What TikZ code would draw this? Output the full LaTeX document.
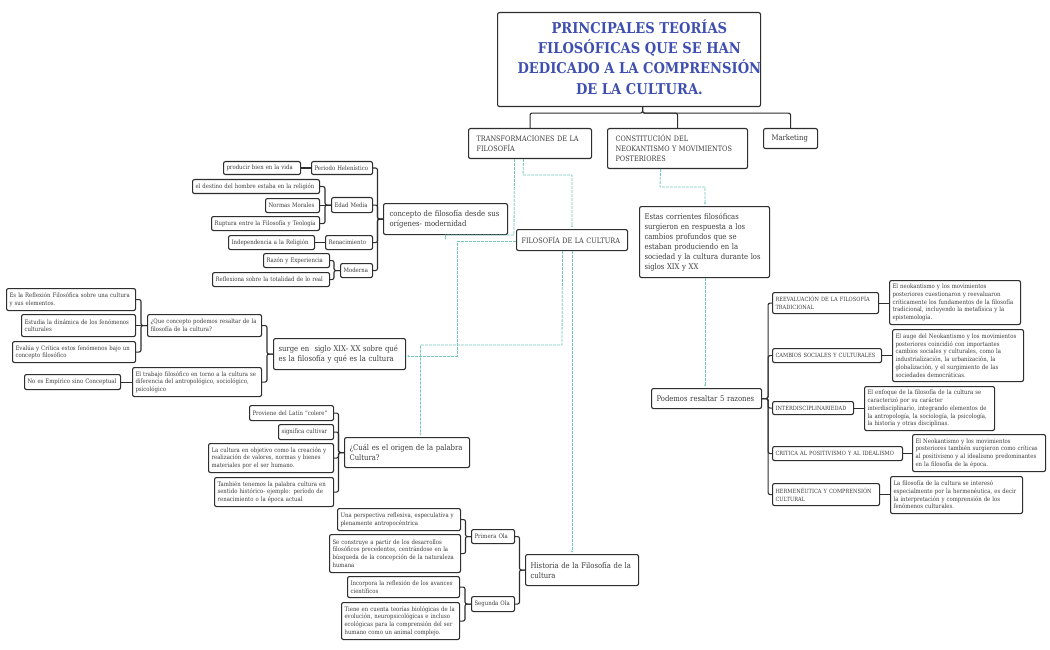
\documentclass[tikz,border=0pt]{standalone}
\usepackage{fontspec}
\setmainfont{DejaVu Serif}[FakeStretch=0.88]
\usetikzlibrary{arrows.meta}
\definecolor{ink}{HTML}{2E2E2E}
\definecolor{txt}{HTML}{3C3C3C}
\definecolor{teal1}{HTML}{74C7BC}
\definecolor{titleblue}{HTML}{3F4FB0}
\tikzset{
  box/.style={draw=ink,line width=1.1pt,rounded corners=2pt,fill=white,anchor=north west,align=left,text=txt,inner ysep=0pt,inner xsep=0pt},
  link/.style={draw=ink,line width=1.1pt,rounded corners=2pt},
  dlink/.style={draw=teal1,line width=0.8pt,dash pattern=on 3pt off 1pt},
  dtip/.style={dlink,-{Stealth[length=2pt,width=2pt,teal1]}}
}
\newcommand{\capsz}{\fontsize{5.75}{7.7}\selectfont}
\newcommand{\bxs}[6]{\node[box,minimum width={(#5-#3)*1pt},minimum height={(#6-#4)*1pt},text width={(#5-#3-6)*1pt},font=\fontsize{6.1}{7.7}\selectfont] (#2) at (#3,#4) {#1};}
\newcommand{\bxm}[7][5]{\node[box,minimum width={(#6-#4)*1pt},minimum height={(#7-#5)*1pt},text width={(#6-#4-2*#1)*1pt},font=\fontsize{7.8}{10}\selectfont] (#3) at (#4,#5) {#2};}
\newcommand{\bxc}[7][5]{\node[box,minimum width={(#6-#4)*1pt},minimum height={(#7-#5)*1pt},text width={(#6-#4-2*#1)*1pt},font=\fontsize{7.4}{10}\selectfont] (#3) at (#4,#5) {#2};}
\newcommand{\lk}[3]{\draw[link] (#1.east) -| ([xshift=-#3pt]#2.west) -- (#2.west);}
\newcommand{\lr}[3]{\draw[link] (#1.east) -- ([xshift=#3pt]#1.east) |- (#2.west);}
\newcommand{\st}[2]{\draw[link] (#1.east) -- (#1.east -| #2.west);}
\begin{document}
\begin{tikzpicture}[x=1pt,y=-1pt]
\useasboundingbox (0,0) rectangle (1050,650);
% title
\node[box,minimum width=263pt,minimum height=94pt,text=titleblue,font=\fontsize{14.9}{20.3}\selectfont\bfseries] (title) at (497,12) {\makebox[263pt][l]{\hspace*{20pt}\raisebox{0.5pt}{\begin{tabular}{@{}c@{}}PRINCIPALES TEORÍAS\\FILOSÓFICAS QUE SE HAN\\DEDICADO A LA COMPRENSIÓN\\DE LA CULTURA.\end{tabular}}}};
\bxc[8]{TRANSFORMACIONES DE LA\\FILOSOFÍA}{trans}{468}{128}{591}{158}
\bxc[8]{CONSTITUCIÓN DEL\\NEOKANTISMO Y MOVIMIENTOS\\POSTERIORES}{cons}{607}{128}{747}{168}
\bxm[8]{Marketing}{mkt}{763}{128}{817}{148}
\bxc[5]{FILOSOFÍA DE LA CULTURA}{filo}{516}{229}{627}{250}
\bxm[6]{concepto de filosofía desde sus\\orígenes- modernidad}{conc}{383}{203}{507}{234}
\bxm{Estas corrientes filosóficas\\surgieron en respuesta a los\\cambios profundos que se\\estaban produciendo en la\\sociedad y la cultura durante los\\siglos XIX y XX}{estas}{639}{206}{769}{277}
\bxm{Podemos resaltar 5 razones}{pod}{651}{388}{761}{408}
\bxm{surge en\ \ siglo XIX- XX sobre qué\\es la filosofía y qué es la cultura}{surge}{273}{338}{405}{369}
\bxm{¿Cuál es el origen de la palabra\\Cultura?}{cual}{344}{437}{469}{467}
\bxm{Historia de la Filosofía de la\\cultura}{hist}{525}{554}{638}{585}
% top-left tree
\bxs{producir bien en la vida}{prod}{223}{161}{300}{174}
\bxs{Periodo Helenístico}{peri}{311}{161}{372}{174}
\bxs{el destino del hombre estaba en la religión}{dest}{192}{179}{319}{193}
\bxs{Normas Morales}{norm}{265}{198}{319}{212}
\bxs{Ruptura entre la Filosofía y Teología}{rupt}{211}{216}{319}{230}
\bxs{Edad Media}{edad}{331}{197}{372}{212}
\bxs{Independencia a la Religión}{inde}{228}{235}{314}{249}
\bxs{Renacimiento}{rena}{325}{235}{372}{249}
\bxs{Razón y Experiencia}{razo}{263}{253}{329}{267}
\bxs{Reflexiona sobre la totalidad de lo real}{refl}{212}{272}{329}{286}
\bxs{Moderna}{mode}{340}{263}{372}{277}
% left tree
\bxs{Es la Reflexión Filosófica sobre una cultura\\y sus elementos.}{esla}{6}{288}{135}{310}
\bxs{Estudia la dinámica de los fenómenos\\culturales}{estu}{21}{314}{135}{336}
\bxs{Evalúa y Crítica estos fenómenos bajo un\\concepto filosófico}{eval}{12}{341}{135}{362}
\bxs{¿Que concepto podemos resaltar de la\\filosofía de la cultura?}{quec}{147}{314}{261}{336}
\bxs{No es Empírico sino Conceptual}{noes}{24}{374}{120}{389}
\bxs{El trabajo filosófico en torno a la cultura se\\diferencia del antropológico, sociológico,\\psicológico}{trab}{132}{367}{261}{396}
% cultura tree
\bxs{Proviene del Latín "colere"}{prov}{249}{405}{333}{420}
\bxs{significa cultivar}{sign}{278}{424}{333}{439}
\bxs{La cultura en objetivo como la creación y\\realización de valores, normas y bienes\\materiales por el ser humano.}{lacu}{208}{443}{333}{472}
\bxs{También tenemos la palabra cultura en\\sentido histórico- ejemplo: período de\\renacimiento o la época actual}{tamb}{214}{477}{333}{506}
% historia tree
\bxs{Una perspectiva reflexiva, especulativa y\\plenamente antropocéntrica}{unap}{337}{508}{460}{530}
\bxs{Se construye a partir de los desarrollos\\filosóficos precedentes, centrándose en la\\búsqueda de la concepción de la naturaleza\\humana}{secon}{329}{534}{460}{572}
\bxs{Primera Ola}{prim}{471}{529}{514}{543}
\bxs{Incorpora la reflexión de los avances\\científicos}{inco}{347}{576}{459}{597}
\bxs{Tiene en cuenta teorías biológicas de la\\evolución, neuropsicológicas e incluso\\ecológicas para la comprensión del ser\\humano como un animal complejo.}{tien}{341}{602}{459}{639}
\bxs{Segunda Ola}{segu}{471}{596}{514}{611}
% right tree
\bxs{\capsz REEVALUACIÓN DE LA FILOSOFÍA\\TRADICIONAL}{reev}{772}{292}{878}{313}
\bxs{El neokantismo y los movimientos\\posteriores cuestionaron y reevaluaron\\críticamente los fundamentos de la filosofía\\tradicional, incluyendo la metafísica y la\\epistemología.}{neok}{889}{280}{1020}{324}
\bxs{\capsz CAMBIOS SOCIALES Y CULTURALES}{camb}{772}{348}{881}{362}
\bxs{El auge del Neokantismo y los movimientos\\posteriores coincidió con importantes\\cambios sociales y culturales, como la\\industrialización, la urbanización, la\\globalización, y el surgimiento de las\\sociedades democráticas.}{auge}{892}{329}{1023}{381}
\bxs{\capsz INTERDISCIPLINARIEDAD}{inte}{772}{401}{853}{414}
\bxs{El enfoque de la filosofía de la cultura se\\caracterizó por su carácter\\interdisciplinario, integrando elementos de\\la antropología, la sociología, la psicología,\\la historia y otras disciplinas.}{enfo}{864}{386}{994}{430}
\bxs{\capsz CRITICA AL POSITIVISMO Y AL IDEALISMO}{crit}{772}{446}{902}{460}
\bxs{El Neokantismo y los movimientos\\posteriores también surgieron como críticas\\al positivismo y al idealismo predominantes\\en la filosofía de la época.}{neo2}{912}{434}{1045}{471}
\bxs{\capsz HERMENÉUTICA Y COMPRENSIÓN\\CULTURAL}{herm}{772}{483}{879}{505}
\bxs{La filosofía de la cultura se interesó\\especialmente por la hermenéutica, es decir\\la interpretación y comprensión de los\\fenómenos culturales.}{lafi}{890}{476}{1022}{513}
% title connectors
\draw[link] ([xshift=13.5pt]title.south) -- ++(0,6) -| (trans.north);
\draw[link] ([xshift=13.5pt]title.south) -- ++(0,6) -| (cons.north);
\draw[link] ([xshift=13.5pt]title.south) -- ++(0,6) -| (mkt.north);
% solid tree connectors
\st{prod}{peri}
\lk{dest}{edad}{6}\st{norm}{edad}\lk{rupt}{edad}{6}
\st{inde}{rena}
\lk{razo}{mode}{6}\lk{refl}{mode}{6}
\draw[link] (peri.east) -| ([xshift=-5.5pt]conc.west) -- (conc.west);
\draw[link] (edad.east) -| ([xshift=-5.5pt]conc.west) -- (conc.west);
\draw[link] (rena.east) -| ([xshift=-5.5pt]conc.west) -- (conc.west);
\draw[link] (mode.east) -| ([xshift=-5.5pt]conc.west) -- (conc.west);
\lk{esla}{quec}{6}\st{estu}{quec}\lk{eval}{quec}{6}
\st{noes}{trab}
\lk{quec}{surge}{6}\lk{trab}{surge}{6}
\lk{prov}{cual}{5.5}\lk{sign}{cual}{5.5}\lk{lacu}{cual}{5.5}\lk{tamb}{cual}{5.5}
\lk{unap}{prim}{5.5}\lk{secon}{prim}{5.5}
\lk{inco}{segu}{6}\lk{tien}{segu}{6}
\lk{prim}{hist}{5.5}\lk{segu}{hist}{5.5}
\lr{pod}{reev}{6}\lr{pod}{camb}{6}\lr{pod}{inte}{6}\lr{pod}{crit}{6}\lr{pod}{herm}{6}
\st{reev}{neok}\st{camb}{auge}\st{inte}{enfo}\st{crit}{neo2}\st{herm}{lafi}
% dashed connectors
\coordinate (c1) at (514,235);
\draw[dtip] ([xshift=-15.5pt]trans.south) -- (c1) -| ([yshift=-4.5pt]conc.south);
\coordinate (c2) at (523,175);
\draw[dtip] ([xshift=-6.5pt]trans.south) -- (c2) -| ([yshift=1.5pt]filo.north);
\coordinate (c3) at (660,187);
\coordinate (c4) at (705,300);
\draw[dtip] ([xshift=-17pt]cons.south) -- (c3) -| ([yshift=1.5pt]c4 |- estas.north);
\draw[dtip] (c4 |- estas.south) -- ([yshift=1.5pt]c4 |- pod.north);
\coordinate (c5) at (457,356);
\draw[dtip] ([yshift=-1.5pt]filo.west) -| (c5) -- ([xshift=1pt]c5 -| surge.east);
\coordinate (c6) at (562,345);
\draw[dtip] ([xshift=-9.5pt]filo.south) -- (c6) -| ([xshift=13.5pt,yshift=1.5pt]cual.north);
\coordinate (c7) at (572,400);
\draw[dtip] (c7 |- filo.south) -- ([yshift=1.5pt]c7 |- hist.north);
\end{tikzpicture}
\end{document}
